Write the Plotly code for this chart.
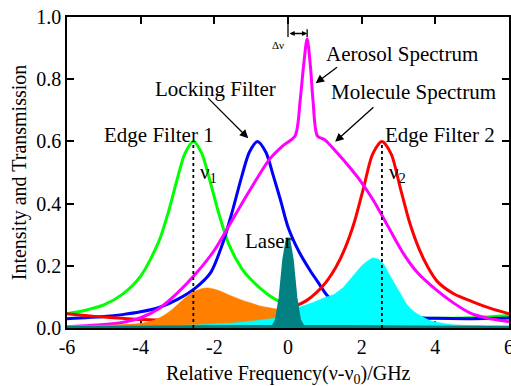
import plotly.graph_objects as go

# ---------------- data ----------------
x_green = [-6, -5.5, -5, -4.5, -4, -3.5, -3.25, -3.0, -2.8, -2.57, -2.35, -2.1, -1.9, -1.6, -1.25, -1.0, -0.5, 0, 0.5, 1, 2, 3, 4, 5, 6]
y_green = [0.046, 0.057, 0.074, 0.108, 0.167, 0.28, 0.372, 0.482, 0.561, 0.6, 0.564, 0.465, 0.377, 0.267, 0.19, 0.155, 0.104, 0.072, 0.055, 0.045, 0.036, 0.032, 0.031, 0.033, 0.04]

x_blue = [-6, -5, -4.5, -4, -3.5, -3, -2.5, -2.1, -1.75, -1.5, -1.25, -1.05, -0.83, -0.6, -0.4, -0.2, 0, 0.3, 0.6, 0.8, 1.1, 1.5, 2, 2.5, 3, 3.5, 4, 5, 6]
y_blue = [0.03, 0.037, 0.043, 0.052, 0.066, 0.092, 0.13, 0.178, 0.28, 0.38, 0.49, 0.565, 0.6, 0.565, 0.49, 0.41, 0.325, 0.245, 0.185, 0.15, 0.1, 0.072, 0.052, 0.042, 0.036, 0.033, 0.031, 0.03, 0.032]

x_red = [-6, -5.5, -5, -4.5, -4, -3, -2, -1, -0.5, 0, 0.25, 0.5, 0.8, 1.05, 1.3, 1.55, 1.8, 2.05, 2.3, 2.55, 2.8, 3.05, 3.3, 3.55, 3.8, 4.05, 4.5, 5, 5.5, 6]
y_red = [0.046, 0.04, 0.035, 0.031, 0.027, 0.025, 0.027, 0.036, 0.046, 0.062, 0.073, 0.088, 0.117, 0.15, 0.195, 0.257, 0.34, 0.45, 0.56, 0.6, 0.56, 0.45, 0.34, 0.257, 0.195, 0.15, 0.11, 0.085, 0.063, 0.046]

x_mol = [-6, -5.5, -5, -4.5, -4, -3.5, -3, -2.5, -2, -1.5, -1, -0.5, -0.15, 0.19, 0.33, 0.42, 0.52, 0.61, 0.68, 0.8, 1.0, 1.32, 1.65, 1.96, 2.32, 2.7, 3.13, 3.5, 4.05, 4.5, 4.95, 5.4, 5.85, 6]
y_mol = [0.004, 0.007, 0.011, 0.018, 0.033, 0.063, 0.113, 0.175, 0.25, 0.35, 0.45, 0.543, 0.585, 0.617, 0.732, 0.84, 0.93, 0.84, 0.73, 0.617, 0.605, 0.565, 0.52, 0.474, 0.41, 0.33, 0.24, 0.18, 0.12, 0.08, 0.048, 0.032, 0.023, 0.02]

x_orange = [-6, -5, -4.5, -4, -3.75, -3.5, -3.25, -3.0, -2.75, -2.5, -2.2, -1.9, -1.6, -1.3, -1.0, -0.76, -0.5, -0.2, 0, 0.5, 1, 2, 3, 4, 5, 6]
y_orange = [0.008, 0.009, 0.011, 0.015, 0.021, 0.032, 0.05, 0.075, 0.101, 0.12, 0.129, 0.121, 0.106, 0.092, 0.08, 0.071, 0.065, 0.059, 0.055, 0.045, 0.036, 0.025, 0.017, 0.011, 0.008, 0.007]

x_cyan = [-6, -5, -4, -3, -2.5, -2, -1.5, -1, -0.5, -0.2, 0, 0.2, 0.33, 0.5, 0.7, 1.0, 1.25, 1.5, 1.75, 2.0, 2.15, 2.3, 2.45, 2.6, 2.77, 2.9, 3.04, 3.2, 3.3, 3.45, 3.6, 3.86, 4.2, 4.5, 5, 6]
y_cyan = [0.004, 0.005, 0.006, 0.008, 0.01, 0.012, 0.016, 0.022, 0.029, 0.034, 0.045, 0.062, 0.068, 0.075, 0.083, 0.098, 0.108, 0.13, 0.165, 0.2, 0.215, 0.226, 0.222, 0.205, 0.168, 0.14, 0.11, 0.08, 0.065, 0.05, 0.039, 0.023, 0.015, 0.01, 0.007, 0.005]

x_laser = [-6, -0.4, -0.3, -0.2, -0.1, 0, 0.1, 0.2, 0.3, 0.4, 6]
y_laser = [0, 0.004, 0.025, 0.098, 0.22, 0.29, 0.22, 0.098, 0.025, 0.004, 0]

nu1, nu2, filter_peak = -2.57, 2.55, 0.6
aerosol_center = 0.52

x_tick_vals = [-6, -4, -2, 0, 2, 4, 6]
x_tick_text = ['-6', '-4', '-2', '0', '2', '4', '6']
y_tick_vals = [0.0, 0.2, 0.4, 0.6, 0.8, 1.0]
y_tick_text = ['0.0', '0.2', '0.4', '0.6', '0.8', '1.0']

FONT = "Liberation Serif"
GREEN, BLUE, RED, MAG = "#00FF00", "#0000FF", "#FF0000", "#FF00FF"
ORANGE, CYAN, TEAL = "#FF8000", "#00FFFF", "#008080"

fig = go.Figure()
for xs, ys, c in [(x_green, y_green, GREEN), (x_blue, y_blue, BLUE),
                  (x_red, y_red, RED), (x_mol, y_mol, MAG)]:
    fig.add_trace(go.Scatter(x=xs, y=ys, mode="lines",
                             line=dict(color=c, width=3, shape="spline", smoothing=0.8),
                             hoverinfo="skip", showlegend=False))

fig.add_trace(go.Scatter(x=x_orange, y=y_orange, mode="lines", fill="tozeroy",
                         fillcolor=ORANGE, line=dict(color=ORANGE, width=0.5, shape="spline"),
                         showlegend=False))
fig.add_trace(go.Scatter(x=x_cyan, y=y_cyan, mode="lines", fill="tozeroy",
                         fillcolor=CYAN, line=dict(color=CYAN, width=0.5),
                         showlegend=False))
fig.add_trace(go.Scatter(x=x_laser, y=y_laser, mode="lines", fill="tozeroy",
                         fillcolor=TEAL, line=dict(color=TEAL, width=4),
                         showlegend=False))
for nu in (nu1, nu2):
    fig.add_trace(go.Scatter(x=[nu, nu], y=[0, filter_peak], mode="lines",
                             line=dict(color="black", width=1.8, dash="dot"),
                             showlegend=False))

ann = []
def label(text, x, y, size=21, xanchor="center"):
    ann.append(dict(text=text, x=x, y=y, xref="x", yref="y", showarrow=False,
                    xanchor=xanchor, yanchor="middle",
                    font=dict(family=FONT, size=size, color="black")))

def arrow(x, y, ax, ay):
    ann.append(dict(text="", x=x, y=y, ax=ax, ay=ay, xref="x", yref="y",
                    axref="x", ayref="y", showarrow=True, arrowhead=2,
                    arrowsize=1.3, arrowwidth=1.3, arrowcolor="black"))

label("Edge Filter 1", -3.51, 0.62)
label("Edge Filter 2", 4.12, 0.62)
label("Locking Filter", -1.96, 0.77)
label("Aerosol Spectrum", 3.10, 0.88)
label("Molecule Spectrum", 3.40, 0.76)
label("Laser", -0.53, 0.28)
label("ν<sub>1</sub>", -2.45, 0.50, xanchor="left")
label("ν<sub>2</sub>", 2.68, 0.50, xanchor="left")
label("Δν", -0.27, 0.91, size=11)
arrow(-1.08, 0.61, -2.21, 0.744)
arrow(0.75, 0.787, 1.37, 0.842)
arrow(1.28, 0.599, 2.36, 0.714)
# delta-nu dimension marker
ann.append(dict(text="", x=aerosol_center, y=0.947, ax=0, ay=0.947, xref="x", yref="y",
                axref="x", ayref="y", showarrow=True, arrowhead=2, startarrowhead=2,
                arrowside="end+start", arrowsize=0.8, startarrowsize=0.8,
                arrowwidth=1.3, arrowcolor="black"))
# x-axis title as a paper-positioned annotation
ann.append(dict(text="Relative Frequency(ν-ν<sub>0</sub>)/GHz", x=0.5, y=-0.148,
                xref="paper", yref="paper", showarrow=False,
                xanchor="center", yanchor="middle",
                font=dict(family=FONT, size=20, color="black")))

shapes = [
    dict(type="line", xref="x", yref="y", x0=0, x1=0, y0=0.936, y1=1.0,
         line=dict(color="black", width=1.3)),
    dict(type="line", xref="x", yref="y", x0=aerosol_center, x1=aerosol_center,
         y0=0.936, y1=0.961, line=dict(color="black", width=1.3)),
]

axis_common = dict(showline=True, linecolor="black", linewidth=1.5, mirror="ticks",
                   ticks="inside", ticklen=7, tickwidth=1.5, tickcolor="black",
                   showgrid=False, zeroline=False, layer="below traces",
                   ticklabeloverflow="allow",
                   tickfont=dict(family=FONT, size=20, color="black"))

fig.update_layout(
    width=511, height=386,
    margin=dict(l=67, r=2, t=17, b=58, autoexpand=False),
    paper_bgcolor="white", plot_bgcolor="white",
    font=dict(family=FONT, size=20, color="black"),
    showlegend=False,
    annotations=ann, shapes=shapes,
    xaxis=dict(range=[-6, 6], tickvals=x_tick_vals, ticktext=x_tick_text,
               **axis_common),
    yaxis=dict(range=[0, 1], tickvals=y_tick_vals, ticktext=y_tick_text,
               title=dict(text="Intensity and Transmission",
                          font=dict(family=FONT, size=20), standoff=4),
               **axis_common),
)

fig.write_html("out.html")
